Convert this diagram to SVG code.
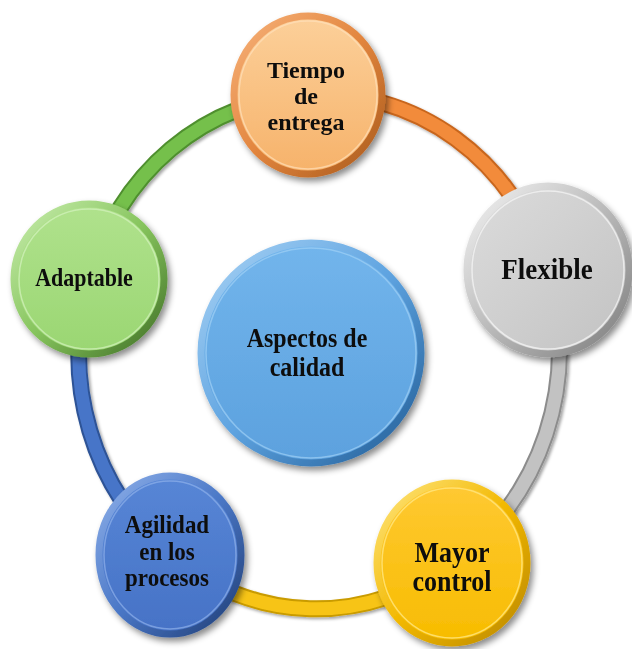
<svg xmlns="http://www.w3.org/2000/svg" width="632" height="649" viewBox="0 0 632 649">
<defs>
<style>
.lbl{font-family:"Liberation Serif","Times New Roman",serif;font-weight:bold;fill:#0d0d0d;text-anchor:middle}
.edge{fill:none;stroke-linecap:butt}
</style>
<filter id="sh" x="-20%" y="-20%" width="150%" height="150%">
<feDropShadow dx="3" dy="4" stdDeviation="3" flood-color="#000" flood-opacity="0.45"/>
</filter>
<filter id="shl" x="-10%" y="-10%" width="130%" height="130%">
<feDropShadow dx="2" dy="2" stdDeviation="1.5" flood-color="#000" flood-opacity="0.35"/>
</filter>
<linearGradient id="gOr" x1="0" y1="0" x2="1" y2="1"><stop offset="0" stop-color="#f7b27a"/><stop offset="0.5" stop-color="#e2853e"/><stop offset="1" stop-color="#a95a1c"/></linearGradient>
<linearGradient id="fOr" x1="0" y1="0" x2="0" y2="1"><stop offset="0" stop-color="#fcd09a"/><stop offset="1" stop-color="#f6b26a"/></linearGradient>
<linearGradient id="gGr" x1="0" y1="0" x2="1" y2="1"><stop offset="0" stop-color="#f4f4f4"/><stop offset="0.5" stop-color="#b9b9b9"/><stop offset="1" stop-color="#7d7d7d"/></linearGradient>
<linearGradient id="fGr" x1="0" y1="0" x2="1" y2="1"><stop offset="0" stop-color="#dcdcdc"/><stop offset="1" stop-color="#c2c2c2"/></linearGradient>
<linearGradient id="gYe" x1="0" y1="0" x2="1" y2="1"><stop offset="0" stop-color="#ffe680"/><stop offset="0.5" stop-color="#f2b800"/><stop offset="1" stop-color="#b98700"/></linearGradient>
<linearGradient id="fYe" x1="0" y1="0" x2="0" y2="1"><stop offset="0" stop-color="#ffc933"/><stop offset="1" stop-color="#f7bc00"/></linearGradient>
<linearGradient id="gBl" x1="0" y1="0" x2="1" y2="1"><stop offset="0" stop-color="#8fb1ea"/><stop offset="0.5" stop-color="#4a77c6"/><stop offset="1" stop-color="#1f3d74"/></linearGradient>
<linearGradient id="fBl" x1="0" y1="0" x2="0" y2="1"><stop offset="0" stop-color="#5786d6"/><stop offset="1" stop-color="#4672c6"/></linearGradient>
<linearGradient id="gGn" x1="0" y1="0" x2="1" y2="1"><stop offset="0" stop-color="#c9eeae"/><stop offset="0.5" stop-color="#86c45d"/><stop offset="1" stop-color="#3f6e25"/></linearGradient>
<linearGradient id="fGn" x1="0" y1="0" x2="0" y2="1"><stop offset="0" stop-color="#b0e28d"/><stop offset="1" stop-color="#9ad672"/></linearGradient>
<linearGradient id="gCe" x1="0" y1="0" x2="1" y2="1"><stop offset="0" stop-color="#a9d3f5"/><stop offset="0.5" stop-color="#5ea3e0"/><stop offset="1" stop-color="#1f5a93"/></linearGradient>
<linearGradient id="fCe" x1="0" y1="0" x2="0" y2="1"><stop offset="0" stop-color="#72b5ec"/><stop offset="1" stop-color="#5ca1de"/></linearGradient>
</defs>
<rect width="632" height="649" fill="#fff"/>
<g id="connectors" filter="url(#shl)">
<path class="edge" d="M 89 279 A 238 256 0 0 1 308 95" stroke="#4f8f2f" stroke-width="17"/>
<path class="edge" d="M 89 279 A 238 256 0 0 1 308 95" stroke="#74c04c" stroke-width="13"/>
<path class="edge" d="M 308 95 A 238 256 0 0 1 548 270" stroke="#c8661f" stroke-width="17"/>
<path class="edge" d="M 308 95 A 238 256 0 0 1 548 270" stroke="#f28b3a" stroke-width="13"/>
<path class="edge" d="M 548 270 A 238 256 0 0 1 452 563" stroke="#8c8c8c" stroke-width="17"/>
<path class="edge" d="M 548 270 A 238 256 0 0 1 452 563" stroke="#c2c2c2" stroke-width="13"/>
<path class="edge" d="M 452 563 A 238 256 0 0 1 170 555" stroke="#c99b00" stroke-width="17"/>
<path class="edge" d="M 452 563 A 238 256 0 0 1 170 555" stroke="#f7c414" stroke-width="13"/>
<path class="edge" d="M 170 555 A 238 256 0 0 1 89 279" stroke="#2d5396" stroke-width="17"/>
<path class="edge" d="M 170 555 A 238 256 0 0 1 89 279" stroke="#4775c8" stroke-width="13"/>
</g>
<g id="center" filter="url(#sh)">
<ellipse cx="311" cy="353" rx="110" ry="110" fill="url(#fCe)" stroke="url(#gCe)" stroke-width="7"/>
<ellipse cx="311" cy="353" rx="105" ry="105" fill="none" stroke="#9fd0f5" stroke-width="1.5" opacity="0.7"/>
<text class="lbl" font-size="24" transform="translate(307,347) scale(1,1.12)">Aspectos de</text>
<text class="lbl" font-size="24" transform="translate(307,376) scale(1,1.12)">calidad</text>
</g>
<g id="tiempo" filter="url(#sh)">
<ellipse cx="308" cy="95" rx="74" ry="79" fill="url(#fOr)" stroke="url(#gOr)" stroke-width="7"/>
<ellipse cx="308" cy="95" rx="69" ry="74" fill="none" stroke="#ffe0bb" stroke-width="1.5" opacity="0.7"/>
<text class="lbl" font-size="24" x="306" y="78">Tiempo</text>
<text class="lbl" font-size="24" x="306" y="104">de</text>
<text class="lbl" font-size="24" x="306" y="130">entrega</text>
</g>
<g id="flexible" filter="url(#sh)">
<ellipse cx="548" cy="270" rx="81" ry="84" fill="url(#fGr)" stroke="url(#gGr)" stroke-width="7"/>
<ellipse cx="548" cy="270" rx="76" ry="79" fill="none" stroke="#f2f2f2" stroke-width="1.5" opacity="0.8"/>
<text class="lbl" font-size="27" transform="translate(547,279) scale(1,1.1)">Flexible</text>
</g>
<g id="mayor" filter="url(#sh)">
<ellipse cx="452" cy="563" rx="75" ry="80" fill="url(#fYe)" stroke="url(#gYe)" stroke-width="7"/>
<ellipse cx="452" cy="563" rx="70" ry="75" fill="none" stroke="#ffe680" stroke-width="1.5" opacity="0.8"/>
<text class="lbl" font-size="26" transform="translate(452,562) scale(1,1.1)">Mayor</text>
<text class="lbl" font-size="26" transform="translate(452,591) scale(1,1.1)">control</text>
</g>
<g id="agilidad" filter="url(#sh)">
<ellipse cx="170" cy="555" rx="71" ry="79" fill="url(#fBl)" stroke="url(#gBl)" stroke-width="7"/>
<ellipse cx="170" cy="555" rx="66" ry="74" fill="none" stroke="#8fb1ea" stroke-width="1.5" opacity="0.7"/>
<text class="lbl" font-size="23" transform="translate(167,533) scale(1,1.12)">Agilidad</text>
<text class="lbl" font-size="23" transform="translate(167,560) scale(1,1.12)">en los</text>
<text class="lbl" font-size="23" transform="translate(167,586) scale(1,1.12)">procesos</text>
</g>
<g id="adaptable" filter="url(#sh)">
<ellipse cx="89" cy="279" rx="75" ry="75" fill="url(#fGn)" stroke="url(#gGn)" stroke-width="7"/>
<ellipse cx="89" cy="279" rx="70" ry="70" fill="none" stroke="#d4f2bf" stroke-width="1.5" opacity="0.7"/>
<text class="lbl" font-size="22" transform="translate(84,286) scale(1,1.1)">Adaptable</text>
</g>
</svg>
